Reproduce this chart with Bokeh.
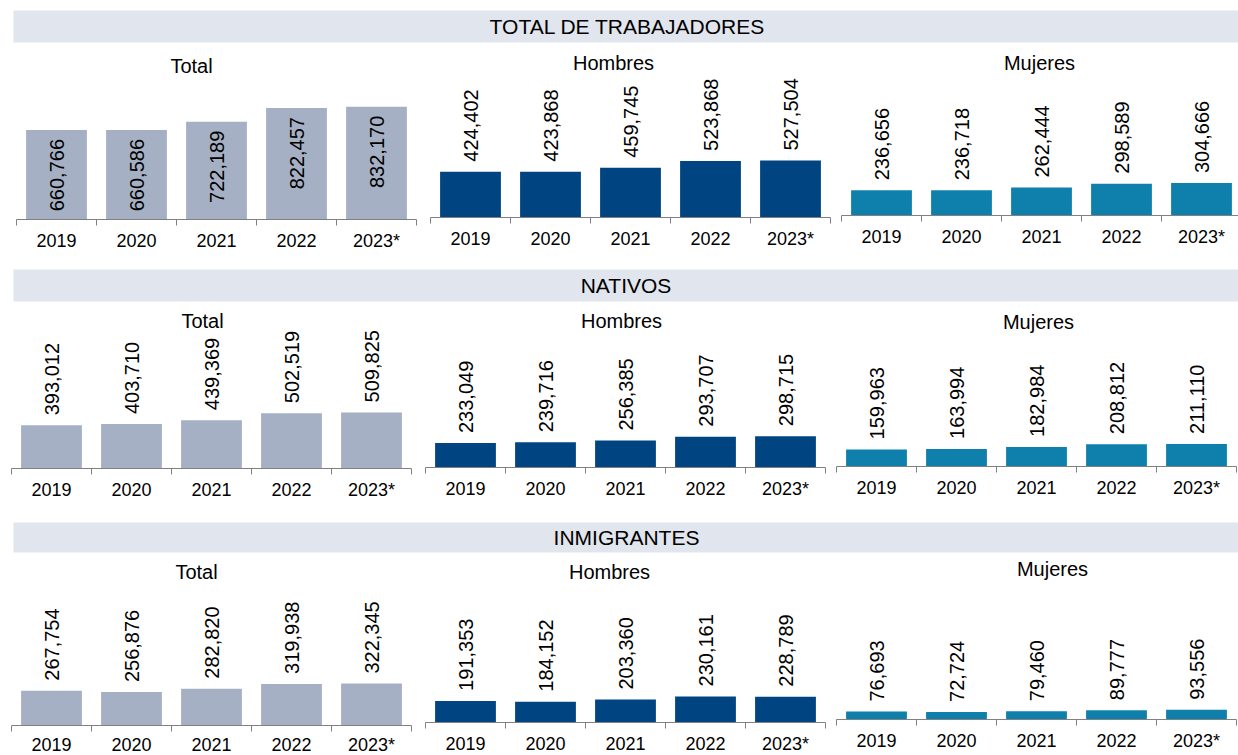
import numpy as np
from bokeh.plotting import figure
from bokeh.layouts import column, row
from bokeh.models import Range1d, FixedTicker, ColumnDataSource
from bokeh.core.properties import value
from bokeh.embed import file_html
from bokeh.resources import INLINE

# ---------------- data ----------------
years = ["2019", "2020", "2021", "2022", "2023*"]

total_total = [660766, 660586, 722189, 822457, 832170]
total_hombres = [424402, 423868, 459745, 523868, 527504]
total_mujeres = [236656, 236718, 262444, 298589, 304666]

nat_total = [393012, 403710, 439369, 502519, 509825]
nat_hombres = [233049, 239716, 256385, 293707, 298715]
nat_mujeres = [159963, 163994, 182984, 208812, 211110]

inm_total = [267754, 256876, 282820, 319938, 322345]
inm_hombres = [191353, 184152, 203360, 230161, 228789]
inm_mujeres = [76693, 72724, 79460, 89777, 93556]

sections = ["TOTAL DE TRABAJADORES", "NATIVOS", "INMIGRANTES"]
panel_titles = ["Total", "Hombres", "Mujeres"]

# ---------------- style ----------------
FONT = "Liberation Sans"
C_TOTAL = "#a5b0c4"
C_HOMBRES = "#004481"
C_MUJERES = "#0e80ab"
BAND = "#e1e5ed"
AXIS = "#808080"
CAT_PX = 80
FULL_W = 1238


def header(text, top_pad, band_h, left_pad):
    p = figure(frame_width=FULL_W - left_pad, frame_height=band_h,
               min_border_top=top_pad, min_border_bottom=2,
               min_border_left=left_pad, min_border_right=0,
               x_range=Range1d(0, 1), y_range=Range1d(0, 1),
               x_axis_location=None, y_axis_location=None,
               toolbar_location=None, output_backend="svg", title=None,
               background_fill_color=BAND, border_fill_color="white",
               outline_line_color=None)
    p.grid.visible = False
    p.text(x=[0.5], y=[0.5], text=[text], text_align="center",
           text_baseline="middle", text_font=value(FONT),
           text_font_size="21px", text_color="black")
    return p


def panel(vals, color, title, g):
    fig_top, fig_h, baseline = g["top"], g["h"], g["base"]
    fig_left, fig_w, frame_left, frame_w = g["fl"], g["fw"], g["frl"], g["frw"]
    ppu = g["scale"] / 1000.0
    frame_h = baseline - fig_top
    x0 = 0.5
    x1 = 0.5 + frame_w / CAT_PX
    ymax = frame_h / ppu
    p = figure(frame_width=frame_w, frame_height=frame_h,
               min_border_left=frame_left - fig_left,
               min_border_right=fig_w - frame_w - (frame_left - fig_left),
               min_border_top=0, min_border_bottom=fig_h - frame_h,
               x_range=Range1d(x0, x1), y_range=Range1d(0, ymax),
               y_axis_location=None, toolbar_location=None,
               output_backend="svg", title=None,
               background_fill_color="white", border_fill_color="white",
               outline_line_color=None)
    p.grid.visible = False

    xs = list(range(1, len(years) + 1))
    bounds = [i + 0.5 for i in range(0, len(years) + 1)]
    gap = g["gap"]
    if g["inside"]:
        ly = [v - gap / ppu for v in vals]
    else:
        ly = [v + gap / ppu for v in vals]
    src = ColumnDataSource(dict(x=xs, v=vals, ly=ly,
                                lbl=[f"{v:,}" for v in vals]))
    p.vbar(x="x", top="v", bottom=0, width=0.76, source=src,
           fill_color=color, line_color=None)
    p.text(x="x", y="ly", text="lbl", source=src, angle=np.pi / 2,
           text_align="right" if g["inside"] else "left",
           text_baseline="middle", text_font=value(FONT),
           text_font_size="20px", text_color="black")
    tx = 0.5 + (g["tcx"] - frame_left) / CAT_PX
    ty = (baseline - g["tcy"]) / ppu
    p.text(x=[tx], y=[ty], text=[title], text_align="center",
           text_baseline="middle", text_font=value(FONT),
           text_font_size="20px", text_color="black")

    ax = p.xaxis[0]
    ax.ticker = FixedTicker(ticks=xs, minor_ticks=bounds)
    ax.major_label_overrides = {x: y for x, y in zip(xs, years)}
    ax.major_tick_out = 0
    ax.major_tick_in = 0
    ax.minor_tick_out = 6
    ax.minor_tick_in = 0
    ax.minor_tick_line_color = AXIS
    ax.axis_line_color = AXIS
    ax.axis_line_width = 1
    ax.major_label_text_font = FONT
    ax.major_label_text_color = "black"
    ax.major_label_text_font_size = "18px"
    ax.major_label_standoff = g["standoff"]
    return p


def geo(top, h, base, fl, fw, frl, frw, scale, tcx, tcy, inside=False,
        gap=10, standoff=5):
    return dict(top=top, h=h, base=base, fl=fl, fw=fw, frl=frl, frw=frw,
                scale=scale, tcx=tcx, tcy=tcy, inside=inside,
                gap=gap, standoff=standoff)


# row 1
r1 = row(
    panel(total_total, C_TOTAL, panel_titles[0],
          geo(44, 223, 219, 0, 423, 16, 400, 0.1355, 191, 65, inside=True, gap=9)),
    panel(total_hombres, C_HOMBRES, panel_titles[1],
          geo(44, 223, 217, 423, 410, 430, 400, 0.108, 613, 62.5)),
    panel(total_mujeres, C_MUJERES, panel_titles[2],
          geo(44, 223, 215, 833, 405, 841, 397, 0.1065, 1039, 62.5)),
)
# row 2
r2 = row(
    panel(nat_total, C_TOTAL, panel_titles[0],
          geo(303, 217, 468, 0, 423, 11, 400, 0.110, 202, 320)),
    panel(nat_hombres, C_HOMBRES, panel_titles[1],
          geo(303, 217, 467, 423, 410, 425, 400, 0.105, 621, 320)),
    panel(nat_mujeres, C_MUJERES, panel_titles[2],
          geo(303, 217, 466, 833, 405, 836, 400, 0.107, 1038, 321)),
)
# row 3
r3 = row(
    panel(inm_total, C_TOTAL, panel_titles[0],
          geo(554, 201, 725, 0, 423, 11, 400, 0.130, 196, 571.5, standoff=3)),
    panel(inm_hombres, C_HOMBRES, panel_titles[1],
          geo(554, 201, 722, 423, 410, 425, 400, 0.113, 609, 571)),
    panel(inm_mujeres, C_MUJERES, panel_titles[2],
          geo(554, 201, 719, 833, 405, 836, 400, 0.104, 1052, 568)),
)

layout = column(
    header(sections[0], 10, 32, 10), r1,
    header(sections[1], 2, 32, 13), r2,
    header(sections[2], 2, 30, 12), r3,
)

open("out.html", "w").write(file_html(layout, INLINE))
